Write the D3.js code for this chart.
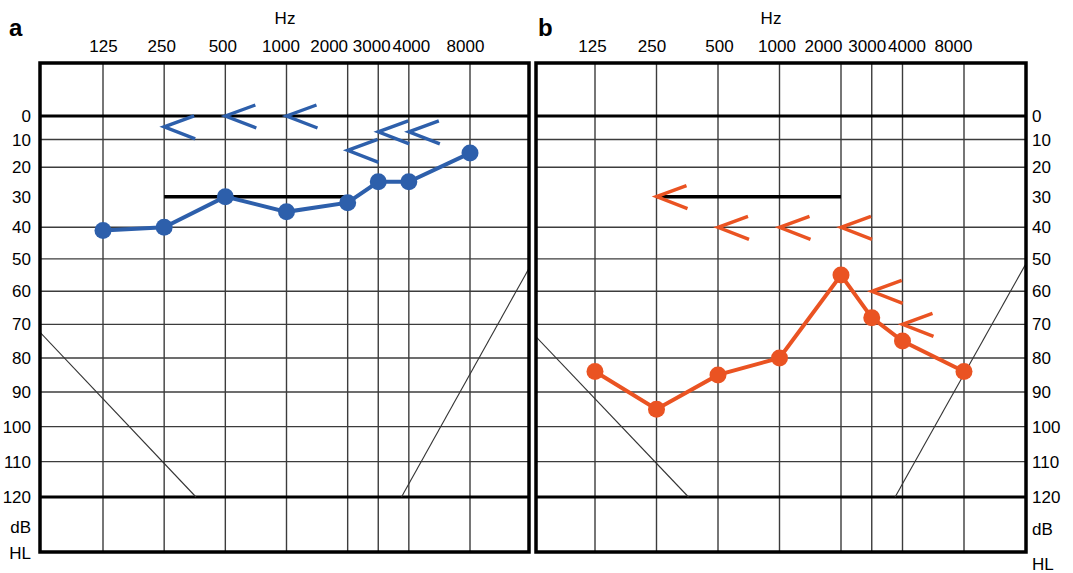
<!DOCTYPE html>
<html>
<head>
<meta charset="utf-8">
<script src="https://cdn.jsdelivr.net/npm/d3@7"></script>
<style>
  body { margin: 0; background: #fff; }
  text { font-family: "Liberation Sans", Arial, sans-serif; fill: #000; }
</style>
</head>
<body>
<div id="chart"></div>
<script>
// frequencies (Hz) and their place on the audiogram (octaves from 125 Hz)
const freqs = [125, 250, 500, 1000, 2000, 3000, 4000, 8000];
const octavePos = [0, 1, 2, 3, 4, 4.5, 5, 6];
const dbTicks = [0, 10, 20, 30, 40, 50, 60, 70, 80, 90, 100, 110, 120];
const dbGrid = [10, 20, 40, 50, 60, 70, 80, 90, 100, 110];

// panel a (blue)
const leftThresholds = [41, 40, 30, 35, 32, 25, 25, 15];
const leftArrowFreqs = [250, 500, 1000, 2000, 3000, 4000];
const leftArrowDb = [5, 0, 0, 14, 7, 7];

// panel b (orange)
const rightThresholds = [84, 95, 85, 80, 55, 68, 75, 84];
const rightArrowFreqs = [250, 500, 1000, 2000, 3000, 4000];
const rightArrowDb = [30, 40, 40, 40, 60, 70];

// black bar at 30 dB from 250 to 2000 Hz
const barFreqs = [250, 2000];
const barDb = 30;

// thin limit lines (octave position, dB)
const lowLimit = [[-1.1, 71], [1.52, 120]];
const highLimit = [[4.88, 120], [7.05, 50]];

const W = 1073, H = 573;
const frameTop = 63, frameBottom = 552;

const svg = d3.select("#chart").append("svg")
    .attr("width", W)
    .attr("height", H);

const y = d3.scalePow().exponent(1.12).domain([0, 120]).range([116, 497]);

const panels = [
  {
    letter: "a", letterX: 9, hzX: 285, range: [103, 470], frameX: [40, 529], color: "#2d5fab",
    thresholds: leftThresholds, arrowFreqs: leftArrowFreqs, arrowDb: leftArrowDb,
    labelShift: [0, -3, -3, -6, -19, -7, 2, -5], side: "left"
  },
  {
    letter: "b", letterX: 538, hzX: 771, range: [595, 964], frameX: [536, 1026], color: "#ea5322",
    thresholds: rightThresholds, arrowFreqs: rightArrowFreqs, arrowDb: rightArrowDb,
    labelShift: [-3, -5, 1, -3, -18, -5, 4, -11], side: "right"
  }
];

panels.forEach(function(p, pi) {
  const x = d3.scaleLinear().domain([0, 6]).range(p.range);
  const fx = function(f) { return x(octavePos[freqs.indexOf(f)]); };
  const left = p.frameX[0], right = p.frameX[1];
  const g = svg.append("g");

  // keep the thin limit lines inside the frame
  svg.append("clipPath")
    .attr("id", "clip" + pi)
    .append("rect")
      .attr("x", left).attr("y", frameTop)
      .attr("width", right - left).attr("height", frameBottom - frameTop);

  // vertical grid
  g.selectAll(".vgrid")
    .data(freqs)
    .enter().append("line")
      .attr("x1", fx).attr("x2", fx)
      .attr("y1", frameTop).attr("y2", frameBottom)
      .attr("stroke", "#3c3c3c")
      .attr("stroke-width", 1.4);

  // horizontal grid
  g.selectAll(".hgrid")
    .data(dbGrid)
    .enter().append("line")
      .attr("x1", left).attr("x2", right)
      .attr("y1", d => y(d)).attr("y2", d => y(d))
      .attr("stroke", "#3c3c3c")
      .attr("stroke-width", 1.4);

  // heavy lines at 0 and 120 dB
  g.selectAll(".heavy")
    .data([0, 120])
    .enter().append("line")
      .attr("x1", left).attr("x2", right)
      .attr("y1", d => y(d)).attr("y2", d => y(d))
      .attr("stroke", "#000")
      .attr("stroke-width", 3);

  // limit lines
  const limitLine = d3.line().x(d => x(d[0])).y(d => y(d[1]));
  [lowLimit, highLimit].forEach(function(l) {
    g.append("path")
      .attr("d", limitLine(l))
      .attr("clip-path", "url(#clip" + pi + ")")
      .attr("fill", "none")
      .attr("stroke", "#333")
      .attr("stroke-width", 1.1);
  });

  // frame
  g.append("rect")
    .attr("x", left).attr("y", frameTop)
    .attr("width", right - left).attr("height", frameBottom - frameTop)
    .attr("fill", "none")
    .attr("stroke", "#000")
    .attr("stroke-width", 3.5);

  // black bar
  g.append("line")
    .attr("x1", fx(barFreqs[0])).attr("x2", fx(barFreqs[1]))
    .attr("y1", y(barDb)).attr("y2", y(barDb))
    .attr("stroke", "#000")
    .attr("stroke-width", 3.5);

  // arrows "<" with the tip on the frequency line
  g.selectAll(".arrow")
    .data(p.arrowFreqs)
    .enter().append("path")
      .attr("d", function(f, i) {
        const tx = fx(f), ty = y(p.arrowDb[i]);
        return "M" + (tx + 30) + "," + (ty - 11) + "L" + tx + "," + ty + "L" + (tx + 31) + "," + (ty + 12);
      })
      .attr("fill", "none")
      .attr("stroke", p.color)
      .attr("stroke-width", 3.4);

  // threshold line + dots
  const pts = freqs.map((f, i) => [fx(f), y(p.thresholds[i])]);
  g.append("path")
    .attr("d", d3.line()(pts))
    .attr("fill", "none")
    .attr("stroke", p.color)
    .attr("stroke-width", 4);

  g.selectAll(".dot")
    .data(pts)
    .enter().append("circle")
      .attr("cx", d => d[0])
      .attr("cy", d => d[1])
      .attr("r", 8.5)
      .attr("fill", p.color);

  // frequency labels
  const xAxis = svg.append("g")
    .attr("transform", "translate(0,54)")
    .call(d3.axisTop(x).tickValues(octavePos).tickSize(0).tickPadding(2)
      .tickFormat((d, i) => freqs[i]));
  xAxis.select(".domain").remove();
  xAxis.selectAll("text")
    .attr("font-size", 17)
    .attr("font-family", "Liberation Sans, Arial, sans-serif")
    .attr("fill", "#000")
    .attr("dx", (d, i) => p.labelShift[i]);

  svg.append("text")
    .attr("x", p.hzX).attr("y", 24)
    .attr("text-anchor", "middle")
    .attr("font-size", 17)
    .text("Hz");

  svg.append("text")
    .attr("x", p.letterX).attr("y", 36)
    .attr("font-size", 24)
    .attr("font-weight", "bold")
    .text(p.letter);

  // dB labels
  let yAxis;
  if (p.side === "left") {
    yAxis = svg.append("g").attr("transform", "translate(33,0)")
      .call(d3.axisLeft(y).tickValues(dbTicks).tickSize(0).tickPadding(2));
  } else {
    yAxis = svg.append("g").attr("transform", "translate(1030,0)")
      .call(d3.axisRight(y).tickValues(dbTicks).tickSize(0).tickPadding(2));
  }
  yAxis.select(".domain").remove();
  yAxis.selectAll("text")
    .attr("font-size", 17)
    .attr("fill", "#000")
    .attr("font-family", "Liberation Sans, Arial, sans-serif");

  const unitX = p.side === "left" ? 31 : 1032;
  const anchor = p.side === "left" ? "end" : "start";
  const unitY = p.side === "left" ? [527, 553] : [529, 564];
  ["dB", "HL"].forEach(function(t, i) {
    svg.append("text")
      .attr("x", unitX).attr("y", unitY[i])
      .attr("dy", "0.35em")
      .attr("text-anchor", anchor)
      .attr("font-size", 17)
      .text(t);
  });
});
</script>
</body>
</html>
